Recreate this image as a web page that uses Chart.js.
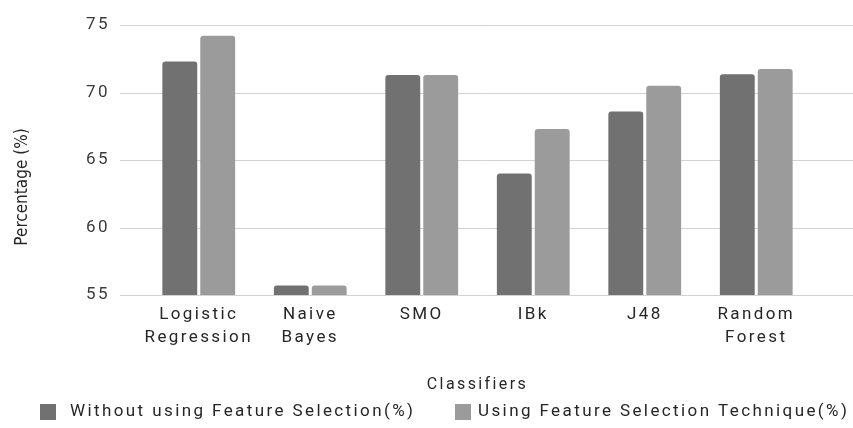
<!DOCTYPE html>
<html>
<head>
<meta charset="utf-8">
<script src="https://cdn.jsdelivr.net/npm/chart.js@4.4.1/dist/chart.umd.min.js"></script>
<style>
  html, body { margin: 0; padding: 0; background: #ffffff; }
  #wrap { width: 853px; height: 428px; position: relative; }
</style>
</head>
<body>
<div id="wrap"><canvas id="c" width="853" height="428"></canvas></div>
<script>
// Classifier accuracy with and without feature selection
const categories = [
  ['Logistic', 'Regression'],
  ['Naive', 'Bayes'],
  'SMO',
  'IBk',
  'J48',
  ['Random', 'Forest']
];
const withoutSelection = [72.3, 55.7, 71.3, 64.0, 68.6, 71.35];
const withSelection    = [74.2, 55.7, 71.3, 67.3, 70.5, 71.75];
const seriesNames = ['Without using Feature Selection(%)', 'Using Feature Selection Technique(%)'];
const seriesColors = ['#717171', '#9b9b9b'];
const yTicks = [55, 60, 65, 70, 75];
const xTitle = 'Classifiers';
const yTitle = 'Percentage (%)';

const TEXT = '#262626';
const SPACING = '2.4px';
const FONT = '17px Roboto, sans-serif';

// wide lettering used by every label on the canvas
const spacingPlugin = {
  id: 'spacing',
  beforeUpdate(chart) { chart.ctx.letterSpacing = SPACING; },
  beforeLayout(chart) { chart.ctx.letterSpacing = SPACING; },
  beforeDraw(chart) { chart.ctx.letterSpacing = SPACING; }
};

// horizontal grid lines that run past the category band on both sides
const gridPlugin = {
  id: 'wideGrid',
  beforeDatasetsDraw(chart) {
    const ctx = chart.ctx;
    const y = chart.scales.y;
    ctx.save();
    ctx.strokeStyle = '#d2d2d2';
    ctx.lineWidth = 1;
    yTicks.forEach(v => {
      const py = Math.round(y.getPixelForValue(v)) + 0.5;
      ctx.beginPath();
      ctx.moveTo(120, py);
      ctx.lineTo(853, py);
      ctx.stroke();
    });
    ctx.restore();
  }
};

// condensed vertical axis title
const yTitlePlugin = {
  id: 'yTitle',
  afterDraw(chart) {
    const ctx = chart.ctx;
    ctx.save();
    ctx.letterSpacing = '0px';
    ctx.translate(23, 187);
    ctx.rotate(-Math.PI / 2);
    ctx.font = '17px "Liberation Sans Narrow", "DejaVu Sans Condensed", "Roboto", sans-serif';
    ctx.fillStyle = TEXT;
    ctx.textAlign = 'center';
    ctx.textBaseline = 'middle';
    ctx.fillText(yTitle, 0, 0);
    ctx.restore();
  }
};

// legend row along the bottom edge, built from the chart's datasets
const legendPlugin = {
  id: 'bottomLegend',
  afterDraw(chart) {
    const ctx = chart.ctx;
    const boxX = [40, 455];
    const textX = [70, 478];
    const cy = 412;
    ctx.save();
    ctx.letterSpacing = SPACING;
    ctx.font = FONT;
    ctx.textAlign = 'left';
    ctx.textBaseline = 'middle';
    chart.data.datasets.forEach((ds, i) => {
      ctx.fillStyle = ds.backgroundColor;
      ctx.fillRect(boxX[i], cy - 8, 16, 16);
      ctx.fillStyle = TEXT;
      ctx.fillText(ds.label, textX[i], cy);
    });
    ctx.restore();
  }
};

new Chart(document.getElementById('c'), {
  type: 'bar',
  data: {
    labels: categories,
    datasets: [
      {
        label: seriesNames[0],
        data: withoutSelection,
        backgroundColor: seriesColors[0],
        borderRadius: { topLeft: 3, topRight: 3 },
        borderSkipped: 'bottom',
        categoryPercentage: 0.68,
        barPercentage: 0.92
      },
      {
        label: seriesNames[1],
        data: withSelection,
        backgroundColor: seriesColors[1],
        borderRadius: { topLeft: 3, topRight: 3 },
        borderSkipped: 'bottom',
        categoryPercentage: 0.68,
        barPercentage: 0.92
      }
    ]
  },
  options: {
    responsive: false,
    animation: false,
    devicePixelRatio: 1,
    layout: { padding: { left: 0, right: 41, top: 25, bottom: 28 } },
    plugins: {
      tooltip: { enabled: false },
      legend: { display: false }
    },
    scales: {
      x: {
        afterFit(scale) { scale.height = 105; },
        grid: { display: false, drawTicks: false },
        border: { display: false },
        ticks: {
          color: TEXT,
          padding: 8,
          maxRotation: 0,
          autoSkip: false,
          font: { family: 'Roboto', size: 17, lineHeight: 1.35 }
        },
        title: {
          display: true,
          text: xTitle,
          color: TEXT,
          font: { family: 'Roboto', size: 16 },
          padding: { top: 18, bottom: 5 }
        }
      },
      y: {
        min: 55,
        max: 75,
        afterFit(scale) {
          scale.width = 143;
          scale.paddingTop = 0;
          scale.paddingBottom = 0;
        },
        afterBuildTicks(scale) { scale.ticks = yTicks.map(v => ({ value: v })); },
        grid: { display: false, drawTicks: false },
        border: { display: false },
        ticks: {
          color: '#3a3a3a',
          padding: 33,
          font: { family: 'Roboto', size: 17 }
        }
      }
    }
  },
  plugins: [spacingPlugin, gridPlugin, yTitlePlugin, legendPlugin]
});
</script>
</body>
</html>
